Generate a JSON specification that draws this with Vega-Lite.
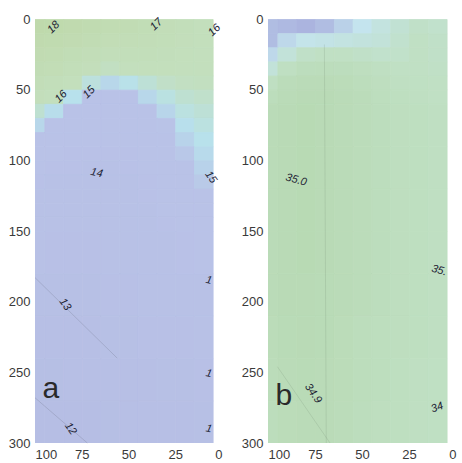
{
"$schema":"https://vega.github.io/schema/vega-lite/v6.json",
"padding":{"left":8,"top":13,"right":2,"bottom":0},
"background":"white",
"spacing":18,
"config":{"view":{"stroke":null},"axis":{"ticks":false,"domain":false,"grid":false,"labelFont":"Liberation Sans","labelFontSize":13,"labelColor":"#3a3a3a","labelPadding":5}},
"resolve":{"scale":{"color":"independent","stroke":"independent"}},
"hconcat":[
{"width":187,"height":424,
"layer":[
{"data":{"values":[
{"x":100,"y":5,"t":17.94},{"x":100,"y":15,"t":17.63},{"x":100,"y":25,"t":17.31},{"x":100,"y":35,"t":16.99},{"x":100,"y":45,"t":16.68},{"x":100,"y":55,"t":16.36},{"x":100,"y":65,"t":15.86},{"x":100,"y":75,"t":15.18},{"x":100,"y":85,"t":14.66},{"x":100,"y":95,"t":14.55},{"x":100,"y":105,"t":14.45},{"x":100,"y":115,"t":14.33},{"x":100,"y":125,"t":14.2},{"x":100,"y":135,"t":14.08},{"x":100,"y":145,"t":13.95},
{"x":90,"y":5,"t":17.84},{"x":90,"y":15,"t":17.51},{"x":90,"y":25,"t":17.18},{"x":90,"y":35,"t":16.85},{"x":90,"y":45,"t":16.53},{"x":90,"y":55,"t":16.2},{"x":90,"y":65,"t":15.32},{"x":90,"y":75,"t":14.66},{"x":90,"y":85,"t":14.55},{"x":90,"y":95,"t":14.45},{"x":90,"y":105,"t":14.33},{"x":90,"y":115,"t":14.2},{"x":90,"y":125,"t":14.08},{"x":90,"y":135,"t":13.97},{"x":90,"y":145,"t":13.87},
{"x":80,"y":5,"t":17.63},{"x":80,"y":15,"t":17.29},{"x":80,"y":25,"t":16.95},{"x":80,"y":35,"t":16.61},{"x":80,"y":45,"t":16.27},{"x":80,"y":55,"t":15.4},{"x":80,"y":65,"t":14.68},{"x":80,"y":75,"t":14.57},{"x":80,"y":85,"t":14.46},{"x":80,"y":95,"t":14.35},{"x":80,"y":105,"t":14.25},{"x":80,"y":115,"t":14.14},{"x":80,"y":125,"t":14.03},{"x":80,"y":135,"t":13.93},{"x":80,"y":145,"t":13.83},
{"x":70,"y":5,"t":17.43},{"x":70,"y":15,"t":17.08},{"x":70,"y":25,"t":16.73},{"x":70,"y":35,"t":16.38},{"x":70,"y":45,"t":15.66},{"x":70,"y":55,"t":14.68},{"x":70,"y":65,"t":14.58},{"x":70,"y":75,"t":14.48},{"x":70,"y":85,"t":14.38},{"x":70,"y":95,"t":14.28},{"x":70,"y":105,"t":14.18},{"x":70,"y":115,"t":14.08},{"x":70,"y":125,"t":13.98},{"x":70,"y":135,"t":13.88},{"x":70,"y":145,"t":13.8},
{"x":60,"y":5,"t":17.22},{"x":60,"y":15,"t":16.87},{"x":60,"y":25,"t":16.52},{"x":60,"y":35,"t":16.11},{"x":60,"y":45,"t":15.17},{"x":60,"y":55,"t":14.65},{"x":60,"y":65,"t":14.57},{"x":60,"y":75,"t":14.49},{"x":60,"y":85,"t":14.4},{"x":60,"y":95,"t":14.3},{"x":60,"y":105,"t":14.2},{"x":60,"y":115,"t":14.1},{"x":60,"y":125,"t":14.0},{"x":60,"y":135,"t":13.95},{"x":60,"y":145,"t":13.9},
{"x":50,"y":5,"t":17.06},{"x":50,"y":15,"t":16.77},{"x":50,"y":25,"t":16.49},{"x":50,"y":35,"t":16.2},{"x":50,"y":45,"t":15.45},{"x":50,"y":55,"t":14.7},{"x":50,"y":65,"t":14.6},{"x":50,"y":75,"t":14.5},{"x":50,"y":85,"t":14.42},{"x":50,"y":95,"t":14.35},{"x":50,"y":105,"t":14.28},{"x":50,"y":115,"t":14.2},{"x":50,"y":125,"t":14.12},{"x":50,"y":135,"t":14.05},{"x":50,"y":145,"t":14.0},
{"x":40,"y":5,"t":16.9},{"x":40,"y":15,"t":16.68},{"x":40,"y":25,"t":16.47},{"x":40,"y":35,"t":16.26},{"x":40,"y":45,"t":15.78},{"x":40,"y":55,"t":15.18},{"x":40,"y":65,"t":14.68},{"x":40,"y":75,"t":14.6},{"x":40,"y":85,"t":14.53},{"x":40,"y":95,"t":14.46},{"x":40,"y":105,"t":14.4},{"x":40,"y":115,"t":14.33},{"x":40,"y":125,"t":14.27},{"x":40,"y":135,"t":14.2},{"x":40,"y":145,"t":14.15},
{"x":30,"y":5,"t":16.73},{"x":30,"y":15,"t":16.58},{"x":30,"y":25,"t":16.43},{"x":30,"y":35,"t":16.29},{"x":30,"y":45,"t":16.02},{"x":30,"y":55,"t":15.58},{"x":30,"y":65,"t":15.14},{"x":30,"y":75,"t":14.72},{"x":30,"y":85,"t":14.65},{"x":30,"y":95,"t":14.6},{"x":30,"y":105,"t":14.55},{"x":30,"y":115,"t":14.5},{"x":30,"y":125,"t":14.45},{"x":30,"y":135,"t":14.4},{"x":30,"y":145,"t":14.35},
{"x":20,"y":5,"t":16.46},{"x":20,"y":15,"t":16.39},{"x":20,"y":25,"t":16.32},{"x":20,"y":35,"t":16.25},{"x":20,"y":45,"t":16.12},{"x":20,"y":55,"t":15.86},{"x":20,"y":65,"t":15.6},{"x":20,"y":75,"t":15.35},{"x":20,"y":85,"t":15.09},{"x":20,"y":95,"t":14.83},{"x":20,"y":105,"t":14.68},{"x":20,"y":115,"t":14.63},{"x":20,"y":125,"t":14.58},{"x":20,"y":135,"t":14.53},{"x":20,"y":145,"t":14.48},
{"x":10,"y":5,"t":16.29},{"x":10,"y":15,"t":16.27},{"x":10,"y":25,"t":16.24},{"x":10,"y":35,"t":16.22},{"x":10,"y":45,"t":16.15},{"x":10,"y":55,"t":15.97},{"x":10,"y":65,"t":15.78},{"x":10,"y":75,"t":15.6},{"x":10,"y":85,"t":15.42},{"x":10,"y":95,"t":15.24},{"x":10,"y":105,"t":15.06},{"x":10,"y":115,"t":14.88},{"x":10,"y":125,"t":14.7},{"x":10,"y":135,"t":14.65},{"x":10,"y":145,"t":14.6}
]},
"mark":{"type":"rect","clip":true,"binSpacing":0,"strokeWidth":0.8},
"encoding":{
"x":{"field":"x","type":"quantitative","bin":{"extent":[5,105],"step":10,"nice":false},"scale":{"domain":[0,100],"reverse":true},"axis":{"values":[0,25,50,75,100]},"title":null},
"y":{"field":"y","type":"quantitative","bin":{"extent":[0,150],"step":10,"nice":false},"scale":{"domain":[0,300],"reverse":true},"axis":{"values":[0,50,100,150,200,250,300]},"title":null},
"color":{"field":"t","type":"quantitative","scale":{"interpolate":"rgb","domain":[12,14.7,15.4,16.2,18],"range":["#b6bee4","#b9c2e7","#b8e1ec","#c3dfbd","#bfd9ab"]},"legend":null},
"stroke":{"field":"t","type":"quantitative","scale":{"interpolate":"rgb","domain":[12,14.7,15.4,16.2,18],"range":["#b6bee4","#b9c2e7","#b8e1ec","#c3dfbd","#bfd9ab"]},"legend":null}
}},
{"data":{"values":[
{"x":100,"y":165,"t":13.7},{"x":100,"y":195,"t":13.2},{"x":100,"y":225,"t":12.8},{"x":100,"y":255,"t":12.4},{"x":100,"y":285,"t":12.1},
{"x":90,"y":165,"t":13.6},{"x":90,"y":195,"t":13.15},{"x":90,"y":225,"t":12.75},{"x":90,"y":255,"t":12.4},{"x":90,"y":285,"t":12.1},
{"x":80,"y":165,"t":13.6},{"x":80,"y":195,"t":13.2},{"x":80,"y":225,"t":12.8},{"x":80,"y":255,"t":12.45},{"x":80,"y":285,"t":12.15},
{"x":70,"y":165,"t":13.65},{"x":70,"y":195,"t":13.3},{"x":70,"y":225,"t":12.9},{"x":70,"y":255,"t":12.55},{"x":70,"y":285,"t":12.25},
{"x":60,"y":165,"t":13.75},{"x":60,"y":195,"t":13.45},{"x":60,"y":225,"t":13.05},{"x":60,"y":255,"t":12.7},{"x":60,"y":285,"t":12.4},
{"x":50,"y":165,"t":13.85},{"x":50,"y":195,"t":13.55},{"x":50,"y":225,"t":13.2},{"x":50,"y":255,"t":12.85},{"x":50,"y":285,"t":12.55},
{"x":40,"y":165,"t":14.0},{"x":40,"y":195,"t":13.7},{"x":40,"y":225,"t":13.35},{"x":40,"y":255,"t":13.0},{"x":40,"y":285,"t":12.7},
{"x":30,"y":165,"t":14.2},{"x":30,"y":195,"t":13.85},{"x":30,"y":225,"t":13.5},{"x":30,"y":255,"t":13.15},{"x":30,"y":285,"t":12.85},
{"x":20,"y":165,"t":14.35},{"x":20,"y":195,"t":14.0},{"x":20,"y":225,"t":13.6},{"x":20,"y":255,"t":13.25},{"x":20,"y":285,"t":12.95},
{"x":10,"y":165,"t":14.45},{"x":10,"y":195,"t":14.1},{"x":10,"y":225,"t":13.7},{"x":10,"y":255,"t":13.35},{"x":10,"y":285,"t":13.05}
]},
"mark":{"type":"rect","clip":true,"binSpacing":0,"strokeWidth":0.8},
"encoding":{
"x":{"field":"x","type":"quantitative","bin":{"extent":[5,105],"step":10,"nice":false},"scale":{"domain":[0,100],"reverse":true},"axis":{"values":[0,25,50,75,100]},"title":null},
"y":{"field":"y","type":"quantitative","bin":{"extent":[150,300],"step":30,"nice":false},"scale":{"domain":[0,300],"reverse":true},"axis":{"values":[0,50,100,150,200,250,300]},"title":null},
"color":{"field":"t","type":"quantitative","scale":{"interpolate":"rgb","domain":[12,14.7,15.4,16.2,18],"range":["#b6bee4","#b9c2e7","#b8e1ec","#c3dfbd","#bfd9ab"]},"legend":null},
"stroke":{"field":"t","type":"quantitative","scale":{"interpolate":"rgb","domain":[12,14.7,15.4,16.2,18],"range":["#b6bee4","#b9c2e7","#b8e1ec","#c3dfbd","#bfd9ab"]},"legend":null}
}},
{"data":{"values":[
{"id":"a1","x":100,"y":183},{"id":"a1","x":56,"y":240},
{"id":"a2","x":100,"y":268},{"id":"a2","x":72,"y":300}
]},
"mark":{"type":"line","color":"#5a6070","strokeWidth":1,"opacity":0.22},
"encoding":{
"x":{"field":"x","type":"quantitative","scale":{"domain":[0,100],"reverse":true},"axis":{"values":[0,25,50,75,100]},"title":null},
"y":{"field":"y","type":"quantitative","scale":{"domain":[0,300],"reverse":true},"axis":{"values":[0,50,100,150,200,250,300]},"title":null},
"detail":{"field":"id"},"order":{"field":"y","type":"quantitative"}
}},
{"data":{"values":[
{"x":90,"y":6,"label":"18"},{"x":35,"y":4,"label":"17"},{"x":4,"y":8,"label":"16"},{"x":86,"y":55,"label":"16"},{"x":71,"y":52,"label":"15"}
]},
"mark":{"type":"text","angle":-45,"font":"Liberation Sans","fontSize":11,"fontStyle":"italic","color":"#1c2233"},
"encoding":{
"x":{"field":"x","type":"quantitative","scale":{"domain":[0,100],"reverse":true},"axis":{"values":[0,25,50,75,100]},"title":null},
"y":{"field":"y","type":"quantitative","scale":{"domain":[0,300],"reverse":true},"axis":{"values":[0,50,100,150,200,250,300]},"title":null},
"text":{"field":"label"}
}},
{"data":{"values":[
{"x":6,"y":112,"label":"15"},{"x":84,"y":202,"label":"13"},{"x":81,"y":290,"label":"12"}
]},
"mark":{"type":"text","angle":55,"font":"Liberation Sans","fontSize":11,"fontStyle":"italic","color":"#1c2233"},
"encoding":{
"x":{"field":"x","type":"quantitative","scale":{"domain":[0,100],"reverse":true},"axis":{"values":[0,25,50,75,100]},"title":null},
"y":{"field":"y","type":"quantitative","scale":{"domain":[0,300],"reverse":true},"axis":{"values":[0,50,100,150,200,250,300]},"title":null},
"text":{"field":"label"}
}},
{"data":{"values":[
{"x":67,"y":109,"label":"14"},{"x":7,"y":185,"label":"1"},{"x":7,"y":251,"label":"1"},{"x":7,"y":290,"label":"1"}
]},
"mark":{"type":"text","angle":12,"font":"Liberation Sans","fontSize":11,"fontStyle":"italic","color":"#1c2233"},
"encoding":{
"x":{"field":"x","type":"quantitative","scale":{"domain":[0,100],"reverse":true},"axis":{"values":[0,25,50,75,100]},"title":null},
"y":{"field":"y","type":"quantitative","scale":{"domain":[0,300],"reverse":true},"axis":{"values":[0,50,100,150,200,250,300]},"title":null},
"text":{"field":"label"}
}},
{"data":{"values":[{"x":96,"y":268,"label":"a"}]},
"mark":{"type":"text","align":"left","baseline":"alphabetic","font":"Liberation Sans","fontSize":30,"color":"#2a2a2a"},
"encoding":{
"x":{"field":"x","type":"quantitative","scale":{"domain":[0,100],"reverse":true},"axis":{"values":[0,25,50,75,100]},"title":null},
"y":{"field":"y","type":"quantitative","scale":{"domain":[0,300],"reverse":true},"axis":{"values":[0,50,100,150,200,250,300]},"title":null},
"text":{"field":"label"}
}}
]},
{"width":188,"height":424,
"layer":[
{"data":{"values":[
{"x":100,"y":5,"s":34.5},{"x":90,"y":5,"s":34.48},{"x":80,"y":5,"s":34.45},{"x":70,"y":5,"s":34.5},{"x":60,"y":5,"s":34.6},{"x":50,"y":5,"s":34.7},{"x":40,"y":5,"s":34.77},{"x":30,"y":5,"s":34.83},{"x":20,"y":5,"s":34.88},{"x":10,"y":5,"s":34.86},
{"x":100,"y":15,"s":34.5},{"x":90,"y":15,"s":34.64},{"x":80,"y":15,"s":34.72},{"x":70,"y":15,"s":34.74},{"x":60,"y":15,"s":34.76},{"x":50,"y":15,"s":34.78},{"x":40,"y":15,"s":34.8},{"x":30,"y":15,"s":34.85},{"x":20,"y":15,"s":34.9},{"x":10,"y":15,"s":34.88},
{"x":100,"y":25,"s":34.64},{"x":90,"y":25,"s":34.8},{"x":80,"y":25,"s":34.88},{"x":70,"y":25,"s":34.9},{"x":60,"y":25,"s":34.9},{"x":50,"y":25,"s":34.88},{"x":40,"y":25,"s":34.86},{"x":30,"y":25,"s":34.87},{"x":20,"y":25,"s":34.9},{"x":10,"y":25,"s":34.88},
{"x":100,"y":35,"s":34.8},{"x":90,"y":35,"s":34.92},{"x":80,"y":35,"s":34.96},{"x":70,"y":35,"s":34.97},{"x":60,"y":35,"s":34.96},{"x":50,"y":35,"s":34.94},{"x":40,"y":35,"s":34.92},{"x":30,"y":35,"s":34.9},{"x":20,"y":35,"s":34.9},{"x":10,"y":35,"s":34.89},
{"x":100,"y":45,"s":34.92},{"x":90,"y":45,"s":34.98},{"x":80,"y":45,"s":35.0},{"x":70,"y":45,"s":35.0},{"x":60,"y":45,"s":34.99},{"x":50,"y":45,"s":34.97},{"x":40,"y":45,"s":34.94},{"x":30,"y":45,"s":34.92},{"x":20,"y":45,"s":34.91},{"x":10,"y":45,"s":34.9},
{"x":100,"y":55,"s":34.97},{"x":90,"y":55,"s":35.0},{"x":80,"y":55,"s":35.02},{"x":70,"y":55,"s":35.02},{"x":60,"y":55,"s":35.0},{"x":50,"y":55,"s":34.98},{"x":40,"y":55,"s":34.95},{"x":30,"y":55,"s":34.93},{"x":20,"y":55,"s":34.92},{"x":10,"y":55,"s":34.9}
]},
"mark":{"type":"rect","clip":true,"binSpacing":0,"strokeWidth":0.8},
"encoding":{
"x":{"field":"x","type":"quantitative","bin":{"extent":[5,105],"step":10,"nice":false},"scale":{"domain":[0,100],"reverse":true},"axis":{"values":[0,25,50,75,100]},"title":null},
"y":{"field":"y","type":"quantitative","bin":{"extent":[0,60],"step":10,"nice":false},"scale":{"domain":[0,300],"reverse":true},"axis":{"values":[0,50,100,150,200,250,300]},"title":null},
"color":{"field":"s","type":"quantitative","scale":{"interpolate":"rgb","domain":[34.4,34.7,34.9,35.05],"range":["#a6aadc","#c4e4ee","#c0e0c4","#b7d9b2"]},"legend":null},
"stroke":{"field":"s","type":"quantitative","scale":{"interpolate":"rgb","domain":[34.4,34.7,34.9,35.05],"range":["#a6aadc","#c4e4ee","#c0e0c4","#b7d9b2"]},"legend":null}
}},
{"data":{"values":[
{"x":100,"y":75,"s":35.0},{"x":90,"y":75,"s":35.02},{"x":80,"y":75,"s":35.03},{"x":70,"y":75,"s":35.02},{"x":60,"y":75,"s":35.0},{"x":50,"y":75,"s":34.98},{"x":40,"y":75,"s":34.96},{"x":30,"y":75,"s":34.94},{"x":20,"y":75,"s":34.93},{"x":10,"y":75,"s":34.92},
{"x":100,"y":105,"s":35.0},{"x":90,"y":105,"s":35.02},{"x":80,"y":105,"s":35.03},{"x":70,"y":105,"s":35.02},{"x":60,"y":105,"s":35.0},{"x":50,"y":105,"s":34.98},{"x":40,"y":105,"s":34.96},{"x":30,"y":105,"s":34.94},{"x":20,"y":105,"s":34.93},{"x":10,"y":105,"s":34.92},
{"x":100,"y":135,"s":35.0},{"x":90,"y":135,"s":35.02},{"x":80,"y":135,"s":35.03},{"x":70,"y":135,"s":35.02},{"x":60,"y":135,"s":35.0},{"x":50,"y":135,"s":34.98},{"x":40,"y":135,"s":34.96},{"x":30,"y":135,"s":34.94},{"x":20,"y":135,"s":34.93},{"x":10,"y":135,"s":34.92},
{"x":100,"y":165,"s":35.0},{"x":90,"y":165,"s":35.02},{"x":80,"y":165,"s":35.03},{"x":70,"y":165,"s":35.02},{"x":60,"y":165,"s":35.0},{"x":50,"y":165,"s":34.98},{"x":40,"y":165,"s":34.96},{"x":30,"y":165,"s":34.94},{"x":20,"y":165,"s":34.93},{"x":10,"y":165,"s":34.92},
{"x":100,"y":195,"s":35.0},{"x":90,"y":195,"s":35.02},{"x":80,"y":195,"s":35.02},{"x":70,"y":195,"s":35.01},{"x":60,"y":195,"s":35.0},{"x":50,"y":195,"s":34.98},{"x":40,"y":195,"s":34.96},{"x":30,"y":195,"s":34.94},{"x":20,"y":195,"s":34.93},{"x":10,"y":195,"s":34.92},
{"x":100,"y":225,"s":34.99},{"x":90,"y":225,"s":35.01},{"x":80,"y":225,"s":35.02},{"x":70,"y":225,"s":35.01},{"x":60,"y":225,"s":34.99},{"x":50,"y":225,"s":34.97},{"x":40,"y":225,"s":34.95},{"x":30,"y":225,"s":34.94},{"x":20,"y":225,"s":34.93},{"x":10,"y":225,"s":34.92},
{"x":100,"y":255,"s":34.98},{"x":90,"y":255,"s":35.0},{"x":80,"y":255,"s":35.01},{"x":70,"y":255,"s":35.0},{"x":60,"y":255,"s":34.99},{"x":50,"y":255,"s":34.97},{"x":40,"y":255,"s":34.95},{"x":30,"y":255,"s":34.93},{"x":20,"y":255,"s":34.92},{"x":10,"y":255,"s":34.91},
{"x":100,"y":285,"s":34.97},{"x":90,"y":285,"s":34.99},{"x":80,"y":285,"s":35.0},{"x":70,"y":285,"s":35.0},{"x":60,"y":285,"s":34.98},{"x":50,"y":285,"s":34.96},{"x":40,"y":285,"s":34.94},{"x":30,"y":285,"s":34.93},{"x":20,"y":285,"s":34.92},{"x":10,"y":285,"s":34.91}
]},
"mark":{"type":"rect","clip":true,"binSpacing":0,"strokeWidth":0.8},
"encoding":{
"x":{"field":"x","type":"quantitative","bin":{"extent":[5,105],"step":10,"nice":false},"scale":{"domain":[0,100],"reverse":true},"axis":{"values":[0,25,50,75,100]},"title":null},
"y":{"field":"y","type":"quantitative","bin":{"extent":[60,300],"step":30,"nice":false},"scale":{"domain":[0,300],"reverse":true},"axis":{"values":[0,50,100,150,200,250,300]},"title":null},
"color":{"field":"s","type":"quantitative","scale":{"interpolate":"rgb","domain":[34.4,34.7,34.9,35.05],"range":["#a6aadc","#c4e4ee","#c0e0c4","#b7d9b2"]},"legend":null},
"stroke":{"field":"s","type":"quantitative","scale":{"interpolate":"rgb","domain":[34.4,34.7,34.9,35.05],"range":["#a6aadc","#c4e4ee","#c0e0c4","#b7d9b2"]},"legend":null}
}},
{"data":{"values":[
{"id":"b1","x":70,"y":18},{"id":"b1","x":69,"y":300},
{"id":"b2","x":95,"y":246},{"id":"b2","x":67,"y":300}
]},
"mark":{"type":"line","color":"#5a6a5a","strokeWidth":1,"opacity":0.15},
"encoding":{
"x":{"field":"x","type":"quantitative","scale":{"domain":[0,100],"reverse":true},"axis":{"values":[0,25,50,75,100]},"title":null},
"y":{"field":"y","type":"quantitative","scale":{"domain":[0,300],"reverse":true},"axis":{"values":[0,50,100,150,200,250,300]},"title":null},
"detail":{"field":"id"},"order":{"field":"y","type":"quantitative"}
}},
{"data":{"values":[
{"x":85,"y":114,"label":"35.0"},{"x":9,"y":178,"label":"35."}
]},
"mark":{"type":"text","angle":15,"font":"Liberation Sans","fontSize":11,"fontStyle":"italic","color":"#1c2233"},
"encoding":{
"x":{"field":"x","type":"quantitative","scale":{"domain":[0,100],"reverse":true},"axis":{"values":[0,25,50,75,100]},"title":null},
"y":{"field":"y","type":"quantitative","scale":{"domain":[0,300],"reverse":true},"axis":{"values":[0,50,100,150,200,250,300]},"title":null},
"text":{"field":"label"}
}},
{"data":{"values":[
{"x":76,"y":265,"label":"34.9"}
]},
"mark":{"type":"text","angle":55,"font":"Liberation Sans","fontSize":11,"fontStyle":"italic","color":"#1c2233"},
"encoding":{
"x":{"field":"x","type":"quantitative","scale":{"domain":[0,100],"reverse":true},"axis":{"values":[0,25,50,75,100]},"title":null},
"y":{"field":"y","type":"quantitative","scale":{"domain":[0,300],"reverse":true},"axis":{"values":[0,50,100,150,200,250,300]},"title":null},
"text":{"field":"label"}
}},
{"data":{"values":[
{"x":10,"y":275,"label":"34"}
]},
"mark":{"type":"text","angle":-20,"font":"Liberation Sans","fontSize":11,"fontStyle":"italic","color":"#1c2233"},
"encoding":{
"x":{"field":"x","type":"quantitative","scale":{"domain":[0,100],"reverse":true},"axis":{"values":[0,25,50,75,100]},"title":null},
"y":{"field":"y","type":"quantitative","scale":{"domain":[0,300],"reverse":true},"axis":{"values":[0,50,100,150,200,250,300]},"title":null},
"text":{"field":"label"}
}},
{"data":{"values":[{"x":96,"y":273,"label":"b"}]},
"mark":{"type":"text","align":"left","baseline":"alphabetic","font":"Liberation Sans","fontSize":30,"color":"#2a2a2a"},
"encoding":{
"x":{"field":"x","type":"quantitative","scale":{"domain":[0,100],"reverse":true},"axis":{"values":[0,25,50,75,100]},"title":null},
"y":{"field":"y","type":"quantitative","scale":{"domain":[0,300],"reverse":true},"axis":{"values":[0,50,100,150,200,250,300]},"title":null},
"text":{"field":"label"}
}}
]}
]
}
